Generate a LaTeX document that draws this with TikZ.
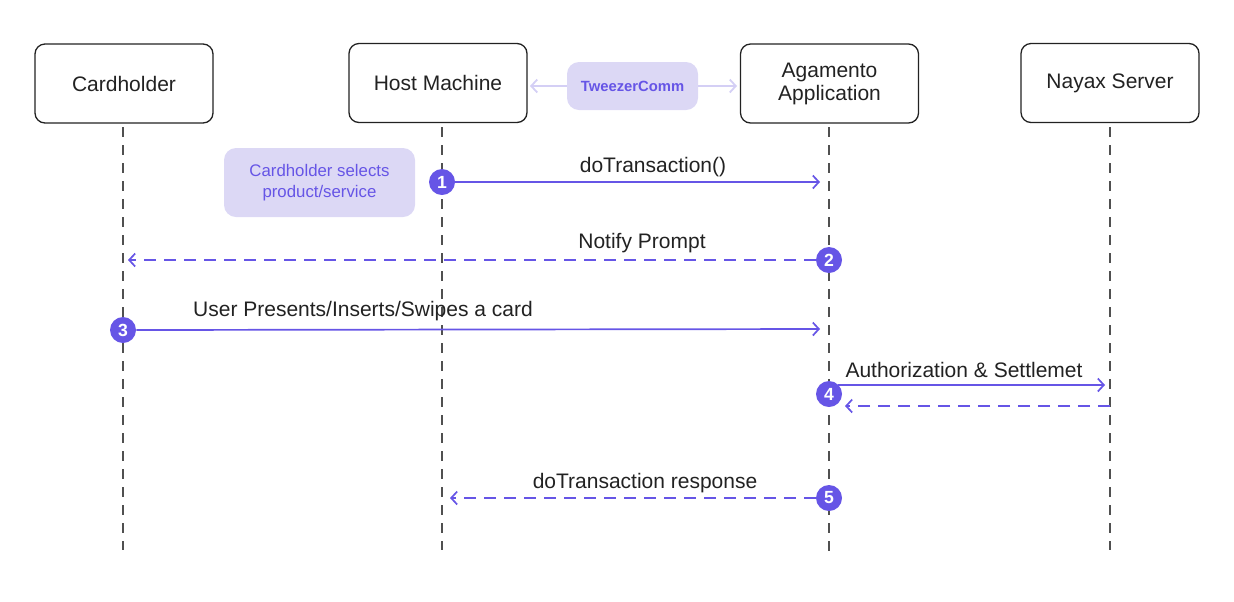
\documentclass[tikz,border=0pt]{standalone}
\usepackage{fontspec}
\setmainfont{Liberation Sans}
\usetikzlibrary{arrows.meta}
\definecolor{purp}{HTML}{6655E6}
\definecolor{lav}{HTML}{DCD8F5}
\definecolor{lavline}{HTML}{D4CFF5}
\definecolor{life}{HTML}{505050}
\definecolor{txt}{HTML}{222222}
\tikzset{
  actor/.style={draw=txt, line width=0.65pt, rounded corners=5pt, minimum width=89pt, minimum height=39.5pt, align=center, font=\fontsize{10.5}{12.5}\selectfont, text=txt},
  lifeline/.style={draw=life, line width=0.55pt, dash pattern=on 5pt off 4pt},
  num/.style={circle, fill=purp, text=white, inner sep=0pt, minimum size=13pt, font=\fontsize{8.8}{8.8}\selectfont\bfseries},
  msg/.style={draw=purp, line width=0.85pt, -{Straight Barb[length=3pt,width=6.5pt,line width=0.85pt]}},
  msgd/.style={msg, dash pattern=on 6pt off 4pt},
  lbl/.style={font=\fontsize{10.5}{12.5}\selectfont, text=txt},
  note/.style={fill=lav, rounded corners=6pt, align=center, text=purp}
}
\begin{document}
\begin{tikzpicture}[x=0.5pt,y=-0.5pt]
\useasboundingbox (0,0) rectangle (1234,601);
% actors
\node[actor] (ch) at (124,83.5) {Cardholder};
\node[actor] (hm) at (438,83) {Host Machine};
\node[actor] (ag) at (829.5,83.5) {\raisebox{-1pt}{Agamento}\\Application};
\node[actor] (nx) at (1110,83) {Nayax Server};
% lifeline ends
\coordinate (chE) at (123,550);
\coordinate (hmE) at (442,550);
\coordinate (agE) at (829,557);
\coordinate (nxE) at (1110,550);
\draw[lifeline] (123,127) -- (chE);
\draw[lifeline] (442,127) -- (hmE);
\draw[lifeline] (829,127) -- (agE);
\draw[lifeline] (1110,127) -- (nxE);
% TweezerComm
\node[note, minimum width=65.5pt, minimum height=24pt, inner sep=0pt, font=\fontsize{7.4}{9}\selectfont\bfseries] (tw) at (632.5,86) {TweezerComm};
\coordinate (twL) at (530,86);
\coordinate (twR) at (737,86);
\draw[lavline, line width=0.9pt, -{Straight Barb[length=3pt,width=6.5pt,line width=0.9pt]}] (tw.west) -- (twL);
\draw[lavline, line width=0.9pt, -{Straight Barb[length=3pt,width=6.5pt,line width=0.9pt]}] (tw.east) -- (twR);
% note
\node[note, minimum width=95.5pt, minimum height=34.5pt, inner sep=0pt, font=\fontsize{8.4}{10.5}\selectfont] (sel) at (319.5,182.5) {Cardholder selects\\product/service};
% step 1
\node[num] (n1) at (442,182) {1};
\coordinate (t1) at (820,182);
\draw[msg] (n1.east) -- (t1);
\node[lbl] (l1) at (653,167) {doTransaction()};
% step 2
\node[num] (n2) at (829,260) {2};
\coordinate (t2) at (128,260);
\draw[msgd] (n2.west) -- (t2);
\node[lbl] (l2) at (642,243) {Notify Prompt};
% step 3
\node[num] (n3) at (123,330) {3};
\coordinate (t3) at (820,329);
\draw[msg] (n3.east) -- (t3);
\node[lbl] (l3) at (363,311) {User Presents/Inserts/Swipes a card};
% step 4
\node[num] (n4) at (829,394) {4};
\coordinate (s4) at (838,385);
\coordinate (t4) at (1105,385);
\draw[msg] (s4) -- (t4);
\coordinate (s4b) at (1110,406);
\coordinate (t4b) at (845,406);
\draw[msgd] (s4b) -- (t4b);
\node[lbl] (l4) at (964,370) {Authorization \& Settlemet};
% step 5
\node[num] (n5) at (829,498) {5};
\coordinate (t5) at (450,498);
\draw[msgd] (n5.west) -- (t5);
\node[lbl] (l5) at (645,483) {doTransaction response};
\end{tikzpicture}
\end{document}
